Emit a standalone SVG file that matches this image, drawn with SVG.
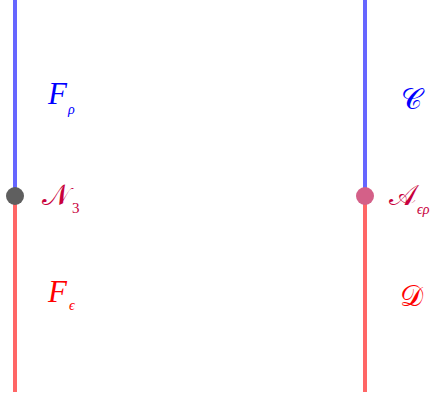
<svg xmlns="http://www.w3.org/2000/svg" width="431" height="398" viewBox="0 0 431 398">
<style>
.blue{stroke:#6666ff;stroke-width:4;fill:none}
.red{stroke:#ff6666;stroke-width:4;fill:none}
.lbl{font-family:"Liberation Serif","DejaVu Serif",serif;font-style:italic;font-size:31px}
.sub{font-family:"Liberation Serif","DejaVu Serif",serif;font-style:italic;font-size:14px}
.num{font-family:"Liberation Serif","DejaVu Serif",serif;font-size:15px}
.cal{font-family:"DejaVu Serif","Noto Sans","Liberation Serif",serif;font-size:29px}
.cb{fill:#0000ff}.cr{fill:#ff0000}.cm{fill:#c8003c}
</style>
<g id="connectors">
<line class="blue" x1="15" y1="0" x2="15" y2="196"/>
<line class="red" x1="15" y1="196" x2="15" y2="392"/>
<line class="blue" x1="365" y1="0" x2="365" y2="196"/>
<line class="red" x1="365" y1="196" x2="365" y2="392"/>
</g>
<g id="n3">
<circle cx="15" cy="196" r="9" fill="#5f5f5f"/>
<text class="cal cm" x="42" y="205">𝒩</text><text class="num cm" x="72" y="213">3</text>
</g>
<g id="aef">
<circle cx="365" cy="196" r="9" fill="#d46088"/>
<text class="cal cm" x="389" y="205">𝒜</text><text class="sub cm" x="417" y="214">ϵρ</text>
</g>
<g id="frho">
<text class="lbl cb" x="48" y="104">F</text><text class="sub cb" x="68" y="114">ρ</text>
</g>
<g id="feps">
<text class="lbl cr" x="48" y="302">F</text><text class="sub cr" x="69" y="310">ϵ</text>
</g>
<g id="c">
<text class="cal cb" x="401" y="109">𝒞</text>
</g>
<g id="d">
<text class="cal cr" x="400" y="306">𝒟</text>
</g>
</svg>
